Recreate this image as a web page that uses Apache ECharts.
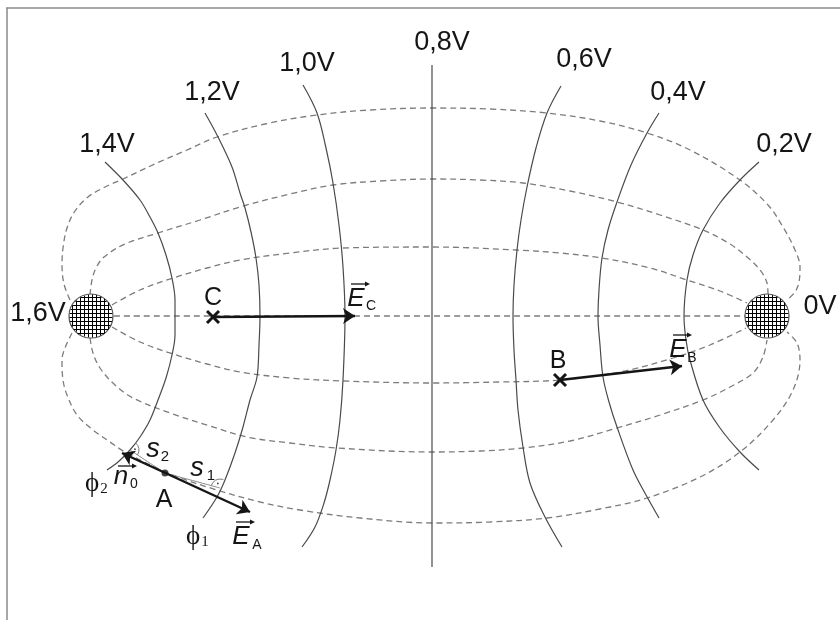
<!DOCTYPE html>
<html>
<head>
<meta charset="utf-8">
<title>Äquipotentiallinien</title>
<script src="https://cdn.jsdelivr.net/npm/echarts@6/dist/echarts.min.js"></script>
<style>
  html, body { margin: 0; padding: 0; background: #fff; }
  #chart { width: 840px; height: 620px; }
</style>
</head>
<body>
<div id="chart"></div>
<script>
// Äquipotentiallinien (oben -> unten), Koordinaten
const eq14 = [[105,162],[123,180],[140,200],[150,217],[158,233],[166,255],[172,278],[175,300],[175,316],[175,335],[172,355],[166,378],[158,400],[150,420],[140,437],[130,450],[118,462],[107,470]];
const eq12 = [[205,113],[218,137],[232,167],[240,193],[245,208],[251,232],[256,258],[259,285],[260,316],[259,345],[257,377],[250,400],[243,427],[235,453],[225,480],[217,497],[203,518]];
const eq10 = [[303,85],[317,113],[326,148],[333,183],[339,225],[343,267],[345,316],[343,380],[340,420],[336,450],[330,480],[324,503],[315,527],[302,547]];
const eq08 = [[432,65],[432,567]];
const eq06 = [[561,86],[547,113],[536,148],[527,187],[521,220],[517,250],[514,285],[513,316],[514,350],[516,380],[518,410],[523,447],[530,483],[545,517],[562,547]];
const eq04 = [[659,113],[647,133],[631,165],[617,202],[608,230],[602,258],[599,290],[598,316],[600,345],[603,377],[609,402],[617,427],[633,470],[646,495],[659,518]];
const eq02 = [[759,162],[740,180],[720,203],[703,230],[693,255],[687,280],[684,316],[686,340],[690,360],[703,400],[720,428],[740,452],[759,470]];

// Feldlinien (gestrichelt)
const fieldCenter = [[114,316],[745,316]];
const fieldInnerTop = [[112,305],[140,290],[173,278],[207,268],[240,260],[290,253],[343,248],[432,247],[517,250],[560,253],[602,258],[650,268],[687,280],[720,291],[747,303]];
const fieldInnerBottom = [[112,327],[140,342],[173,354],[207,364],[240,372],[290,378],[343,381],[432,383],[500,382],[560,380],[620,372],[673,358],[710,345],[746,328]];
const fieldMidTop = [[90,295],[92,280],[96,268],[104,257],[125,244],[158,233],[200,220],[240,207],[290,194],[333,185],[380,181],[432,179],[480,180],[523,183],[570,191],[617,202],[660,215],[703,230],[730,244],[747,257],[760,270],[767,283],[768,294]];
const fieldMidBottom = [[90,338],[93,353],[100,368],[115,385],[133,398],[170,413],[210,426],[247,437],[290,443],[337,448],[432,452],[480,451],[523,448],[570,441],[617,428],[660,415],[703,400],[730,387],[753,373],[763,357],[767,340]];
const fieldOuterTop = [[70,300],[64,284],[62,265],[63,248],[67,228],[75,211],[88,197],[105,187],[123,179],[157,163],[187,150],[217,137],[265,124],[317,115],[370,110],[432,108],[490,109],[547,113],[600,121],[647,133],[690,150],[740,180],[768,205],[783,227],[795,250],[800,267],[799,282],[795,292],[787,300]];
const fieldOuterBottom = [[72,333],[65,348],[62,360],[63,380],[67,395],[77,415],[93,430],[110,442],[125,452],[170,474],[217,490],[260,502],[300,510],[360,518],[432,523],[490,522],[547,518],[600,509],[647,498],[700,477],[740,452],[773,420],[793,390],[800,360],[797,343],[787,332]];

// Elektroden
const electrodes = [[91,316],[767,316]];

// Pfeile
const arrowC = [[213,317],[355,316]];
const arrowB = [[560,380],[682,366]];
const arrowA = [[122,453],[250,512]];
const lineS2 = [[165,473],[130,450]];
const lineS1 = [[165,473],[220,488]];
const rightAngles = [[130,450],[220,488]];
const rightAngleSpans = [[-52,34],[195,293]];

// Punkte
const crossPoints = [[213,317],[560,380]];
const dotA = [[165,473]];

// Beschriftungen
const voltTexts = ['1,6V','1,4V','1,2V','1,0V','0,8V','0,6V','0,4V','0,2V','0V'];
const voltAnchors = [[38,314],[107,145],[212,93],[307,64],[442,43],[584,60],[678,93],[784,145],[820,307]];
const pointTexts = ['A','B','C'];
const pointAnchors = [[164,500],[558,361],[213,298]];
const symMain = ['s','s','\u03d5','\u03d5'];
const symSub = ['2','1','2','1'];
const symAnchors = [[153,449],[197,468],[92,484],[193,537]];
const symSubAnchors = [[165,457],[211,476],[104,489],[205,542]];
const vecMain = ['E','E','E','n'];
const vecSub = ['C','B','A','0'];
const vecAnchors = [[356,299],[678,350],[241,537],[121,477]];
const vecSubAnchors = [[371,306],[692,358],[257,545],[134,484]];

const SANS = '"Liberation Sans", Arial, sans-serif';
const SERIF = '"Liberation Serif", "DejaVu Serif", serif';
const INK = '#151515';

const chart = echarts.init(document.getElementById('chart'));

function curve(data, color, width, type) {
  return {
    type: 'line', data, symbol: 'none', showSymbol: false, smooth: 0.35, silent: true,
    lineStyle: {color, width, type}, z: 2
  };
}

function arrow(data, symbols) {
  return {
    type: 'lines', coordinateSystem: 'cartesian2d', silent: true, z: 4,
    symbol: symbols, symbolSize: 12,
    lineStyle: {color: INK, width: 2.4, opacity: 1},
    data: [{coords: data}]
  };
}

function text(x, y, str, font, align) {
  return {type: 'text', x, y, style: {text: str, font, fill: INK, align: align || 'center', verticalAlign: 'middle'}};
}

const fieldStyle = ['#7c7c7c', 1.3, [6, 4]];
const eqStyle = ['#4a4a4a', 1.2, 'solid'];

const option = {
  animation: false,
  grid: {left: 7, top: 8, right: 0, bottom: 0, containLabel: false},
  xAxis: {
    type: 'value', min: 7, max: 840, position: 'top',
    axisLine: {show: true, onZero: false, lineStyle: {color: '#8a8a8a', width: 1.5}},
    axisTick: {show: false}, axisLabel: {show: false}, splitLine: {show: false}
  },
  yAxis: {
    type: 'value', min: 8, max: 620, inverse: true,
    axisLine: {show: true, onZero: false, lineStyle: {color: '#8a8a8a', width: 1.5}},
    axisTick: {show: false}, axisLabel: {show: false}, splitLine: {show: false}
  },
  series: [
    curve(fieldCenter, ...fieldStyle),
    curve(fieldInnerTop, ...fieldStyle),
    curve(fieldInnerBottom, ...fieldStyle),
    curve(fieldMidTop, ...fieldStyle),
    curve(fieldMidBottom, ...fieldStyle),
    curve(fieldOuterTop, ...fieldStyle),
    curve(fieldOuterBottom, ...fieldStyle),
    curve(eq14, ...eqStyle),
    curve(eq12, ...eqStyle),
    curve(eq10, ...eqStyle),
    curve(eq08, ...eqStyle),
    curve(eq06, ...eqStyle),
    curve(eq04, ...eqStyle),
    curve(eq02, ...eqStyle),
    curve(lineS2, '#8c8c8c', 1, 'solid'),
    curve(lineS1, '#8c8c8c', 1, 'solid'),
    arrow(arrowC, ['none', 'arrow']),
    arrow(arrowB, ['none', 'arrow']),
    arrow(arrowA, ['arrow', 'arrow']),
    {
      // Elektroden mit Gitterschraffur
      type: 'custom', coordinateSystem: 'cartesian2d', data: electrodes, z: 6, silent: true,
      renderItem: function (params, api) {
        const c = api.coord([api.value(0), api.value(1)]);
        const cx = Math.round(c[0]), cy = Math.round(c[1]);
        const r = 22, step = 4;
        const children = [{type: 'circle', shape: {cx, cy, r}, style: {fill: '#fff', stroke: '#555', lineWidth: 1.2}}];
        for (let d = -r + 3; d < r - 1; d += step) {
          const h = Math.sqrt(r * r - d * d) - 0.5;
          children.push({type: 'line', shape: {x1: cx + d + 0.5, y1: cy - h, x2: cx + d + 0.5, y2: cy + h}, style: {stroke: '#000', lineWidth: 1}});
          children.push({type: 'line', shape: {x1: cx - h, y1: cy + d + 0.5, x2: cx + h, y2: cy + d + 0.5}, style: {stroke: '#000', lineWidth: 1}});
        }
        return {type: 'group', children};
      }
    },
    {
      // Kreuze bei B und C
      type: 'custom', coordinateSystem: 'cartesian2d', data: crossPoints, z: 7, silent: true,
      renderItem: function (params, api) {
        const c = api.coord([api.value(0), api.value(1)]);
        const s = 6;
        return {type: 'group', children: [
          {type: 'line', shape: {x1: c[0] - s, y1: c[1] - s, x2: c[0] + s, y2: c[1] + s}, style: {stroke: INK, lineWidth: 3}},
          {type: 'line', shape: {x1: c[0] - s, y1: c[1] + s, x2: c[0] + s, y2: c[1] - s}, style: {stroke: INK, lineWidth: 3}}
        ]};
      }
    },
    {
      type: 'scatter', data: dotA, symbol: 'circle', symbolSize: 7, z: 7, silent: true,
      itemStyle: {color: INK}
    },
    {
      // rechte Winkel
      type: 'custom', coordinateSystem: 'cartesian2d', data: rightAngles, z: 5, silent: true,
      renderItem: function (params, api) {
        const c = api.coord([api.value(0), api.value(1)]);
        const span = rightAngleSpans[params.dataIndex];
        const a0 = span[0] * Math.PI / 180, a1 = span[1] * Math.PI / 180, am = (a0 + a1) / 2;
        return {type: 'group', children: [
          {type: 'arc', shape: {cx: c[0], cy: c[1], r: 9, startAngle: a0, endAngle: a1, clockwise: true}, style: {stroke: '#777', lineWidth: 1, fill: null}},
          {type: 'circle', shape: {cx: c[0] + Math.cos(am) * 5, cy: c[1] + Math.sin(am) * 5, r: 0.9}, style: {fill: '#444'}}
        ]};
      }
    },
    {
      // Spannungen
      type: 'custom', coordinateSystem: 'cartesian2d', data: voltAnchors, z: 8, silent: true,
      renderItem: function (params, api) {
        const c = api.coord([api.value(0), api.value(1)]);
        return text(c[0], c[1], voltTexts[params.dataIndex], '27px ' + SANS);
      }
    },
    {
      type: 'custom', coordinateSystem: 'cartesian2d', data: pointAnchors, z: 8, silent: true,
      renderItem: function (params, api) {
        const c = api.coord([api.value(0), api.value(1)]);
        return text(c[0], c[1], pointTexts[params.dataIndex], '25px ' + SANS);
      }
    },
    {
      // s1, s2, phi1, phi2
      type: 'custom', coordinateSystem: 'cartesian2d', data: symAnchors, z: 8, silent: true,
      renderItem: function (params, api) {
        const i = params.dataIndex;
        const c = api.coord([api.value(0), api.value(1)]);
        const sc = api.coord(symSubAnchors[i]);
        const isPhi = symMain[i] !== 's';
        return {type: 'group', children: [
          text(c[0], c[1], symMain[i], isPhi ? '27px ' + SERIF : 'italic 27px ' + SANS),
          text(sc[0], sc[1], symSub[i], isPhi ? '15px ' + SERIF : '15px ' + SANS)
        ]};
      }
    },
    {
      // Vektoren E_C, E_B, E_A, n_0
      type: 'custom', coordinateSystem: 'cartesian2d', data: vecAnchors, z: 8, silent: true,
      renderItem: function (params, api) {
        const i = params.dataIndex;
        const c = api.coord([api.value(0), api.value(1)]);
        const sc = api.coord(vecSubAnchors[i]);
        const isN = vecMain[i] === 'n';
        const ay = c[1] - (isN ? 11 : 15);
        const x0 = c[0] - (isN ? 3 : 5), x1 = c[0] + (isN ? 16 : 14);
        return {type: 'group', children: [
          text(c[0], c[1], vecMain[i], 'italic 26px ' + SANS),
          text(sc[0], sc[1], vecSub[i], '14px ' + SANS),
          {type: 'line', shape: {x1: x0, y1: ay, x2: x1 - 3, y2: ay}, style: {stroke: INK, lineWidth: 1.3}},
          {type: 'polygon', shape: {points: [[x1, ay], [x1 - 5, ay - 2.5], [x1 - 5, ay + 2.5]]}, style: {fill: INK}}
        ]};
      }
    }
  ]
};

chart.setOption(option);
</script>
</body>
</html>
